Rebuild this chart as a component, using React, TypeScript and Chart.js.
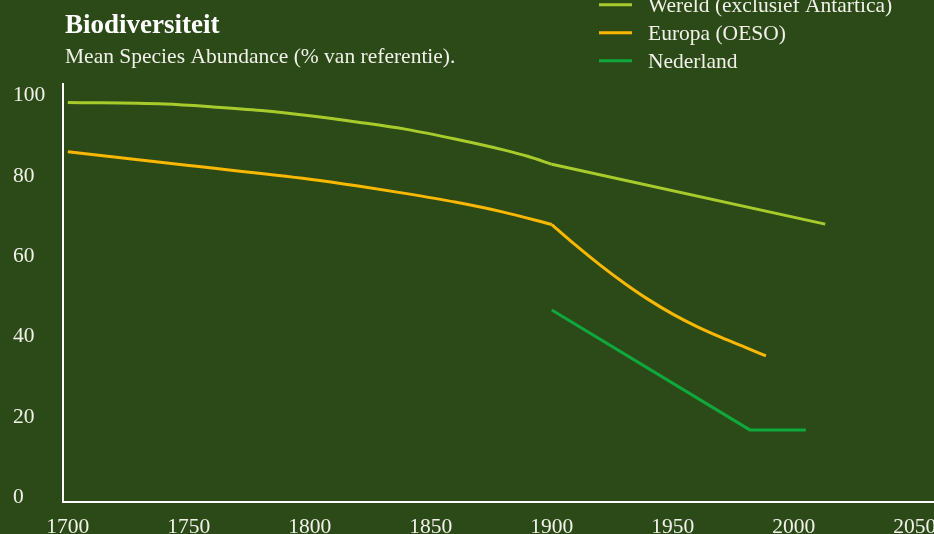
import React, { useEffect, useRef } from "react";
import { Chart, registerables } from "chart.js";

Chart.register(...registerables);

const chartTitle = "Biodiversiteit";
const chartSubtitle = "Mean Species Abundance (% van referentie).";
const seriesNames = ["Wereld (exclusief Antartica)", "Europa (OESO)", "Nederland"];
const seriesColors = ["#a8cb2c", "#fbb800", "#0fa83c"];

// Each series has a break in slope at 1900; the pieces before and after are drawn separately
const breakYear = 1900;

const wereldYears = [1700, 1740, 1760, 1780, 1800, 1820, 1840, 1860, 1880, 1890, 1900, 2013];
const wereldValues = [98.3, 97.9, 97.2, 96.3, 95.0, 93.4, 91.6, 89.2, 86.5, 84.9, 82.9, 68.0];

const europaYears = [1700, 1750, 1800, 1820, 1840, 1860, 1880, 1900, 1910, 1920, 1930, 1940, 1950, 1960, 1970, 1980, 1988.5];
const europaValues = [86.0, 82.6, 79.2, 77.5, 75.6, 73.5, 71.0, 67.9, 62.7, 57.8, 53.3, 49.2, 45.6, 42.5, 39.8, 37.3, 35.2];

const nederlandYears = [1900, 1982, 2005];
const nederlandValues = [46.6, 16.7, 16.7];

const xTicks = [1700, 1750, 1800, 1850, 1900, 1950, 2000, 2050];
const yTicks = [0, 20, 40, 60, 80, 100];

const BG = "#2c4a18";
const TEXT = "#f1f1ea";
const FONT = '"Liberation Serif", "Times New Roman", serif';

const toPoints = (xs: number[], ys: number[]) => xs.map((x, i) => ({ x, y: ys[i] }));
const before = (xs: number[], ys: number[]) => toPoints(xs, ys).filter((p) => p.x <= breakYear);
const after = (xs: number[], ys: number[]) => toPoints(xs, ys).filter((p) => p.x >= breakYear);

const overlayPlugin = {
  id: "overlay",
  afterDraw(chart: any) {
    const ctx = chart.ctx as CanvasRenderingContext2D;
    ctx.save();
    ctx.textBaseline = "alphabetic";
    ctx.textAlign = "left";
    ctx.fillStyle = "#ffffff";
    ctx.font = `bold 27px ${FONT}`;
    ctx.fillText(chartTitle, 65, 33);
    ctx.fillStyle = TEXT;
    ctx.font = `21.5px ${FONT}`;
    ctx.fillText(chartSubtitle, 65, 63);
    seriesNames.forEach((name, i) => {
      const y = 4.7 + i * 28;
      ctx.strokeStyle = seriesColors[i];
      ctx.lineWidth = 3;
      ctx.beginPath();
      ctx.moveTo(599, y);
      ctx.lineTo(632, y);
      ctx.stroke();
      ctx.fillStyle = TEXT;
      ctx.fillText(name, 648, y + 7.4);
    });
    ctx.restore();
  },
};

export default function App() {
  const canvasRef = useRef<HTMLCanvasElement | null>(null);

  useEffect(() => {
    if (!canvasRef.current) return;
    const lineDefaults = {
      borderWidth: 3,
      pointRadius: 0,
      pointHoverRadius: 0,
      cubicInterpolationMode: "monotone",
      fill: false,
      borderCapStyle: "butt",
      borderJoinStyle: "round",
    };
    const chart = new Chart(canvasRef.current, {
      type: "line",
      data: {
        datasets: [
          { label: seriesNames[0], data: before(wereldYears, wereldValues), borderColor: seriesColors[0], ...lineDefaults },
          { label: seriesNames[0], data: after(wereldYears, wereldValues), borderColor: seriesColors[0], ...lineDefaults },
          { label: seriesNames[1], data: before(europaYears, europaValues), borderColor: seriesColors[1], ...lineDefaults },
          { label: seriesNames[1], data: after(europaYears, europaValues), borderColor: seriesColors[1], ...lineDefaults },
          { label: seriesNames[2], data: toPoints(nederlandYears, nederlandValues), borderColor: seriesColors[2], ...lineDefaults, cubicInterpolationMode: "default", tension: 0 },
        ],
      },
      options: {
        animation: false,
        responsive: false,
        devicePixelRatio: 1,
        layout: { padding: { left: 13, top: 84, right: 0, bottom: 0 } },
        plugins: {
          legend: { display: false },
          title: { display: false },
          tooltip: { enabled: false },
        },
        scales: {
          x: {
            type: "linear",
            min: 1698,
            max: 2068.7,
            grid: { display: false, drawTicks: false },
            border: { display: true, color: "#ffffff", width: 2 },
            ticks: {
              color: TEXT,
              font: { family: FONT, size: 21.5 },
              padding: 12,
              maxRotation: 0,
              autoSkip: false,
              callback: (v: any) => String(v),
            },
            afterBuildTicks: (s: any) => {
              s.ticks = xTicks.map((v) => ({ value: v }));
            },
            afterFit: (s: any) => {
              s.height = 58;
              s.paddingLeft = 0;
              s.paddingRight = 0;
            },
          },
          y: {
            type: "linear",
            min: -1.2,
            max: 102.9,
            grid: { display: false, drawTicks: false },
            border: { display: true, color: "#ffffff", width: 2 },
            ticks: {
              color: TEXT,
              font: { family: FONT, size: 21.5 },
              crossAlign: "far",
              padding: 8,
              callback: (v: any) => String(v),
            },
            afterBuildTicks: (s: any) => {
              s.ticks = yTicks.map((v) => ({ value: v }));
            },
            afterFit: (s: any) => {
              s.width = 50;
              s.paddingTop = 0;
              s.paddingBottom = 0;
            },
          },
        },
      },
      plugins: [overlayPlugin],
    } as any);
    return () => chart.destroy();
  }, []);

  return (
    <div
      style={{
        position: "fixed",
        left: 0,
        top: 0,
        width: 934,
        height: 534,
        overflow: "hidden",
        background: BG,
      }}
    >
      <canvas ref={canvasRef} width={960} height={560} style={{ display: "block", width: 960, height: 560 }} />
    </div>
  );
}
